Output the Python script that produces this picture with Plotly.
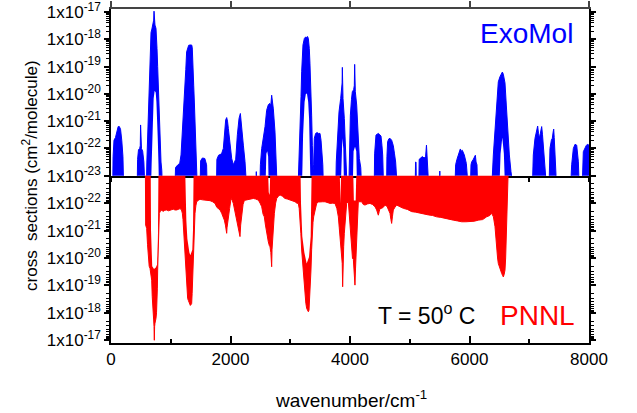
import plotly.graph_objects as go

# ---------------- data ----------------
# ExoMol: upper envelope (max of the dense line spectrum), log10 of cross section
exomol_max_wn = [
    0, 28, 35, 50, 75, 100, 120, 140, 160, 180, 200, 212,
    438, 445, 460, 480, 490, 495, 500, 510, 530, 550, 568,
    592, 600, 614, 625, 636, 647, 658, 670, 681, 692, 703, 714, 720, 726, 736, 753, 762, 770, 781, 792, 803, 815, 826, 837, 850, 860,
    1070, 1080, 1120, 1150, 1172, 1190, 1211, 1225, 1239, 1252, 1266, 1283, 1300, 1322, 1340, 1350, 1360, 1367, 1376, 1384, 1395, 1406, 1415, 1423, 1435, 1445,
    1490, 1500, 1530, 1570, 1600, 1610,
    1765, 1772, 1800, 1850, 1880, 1897, 1919, 1936, 1950, 1964, 1992, 2020, 2047, 2087, 2115, 2143, 2165, 2187, 2215, 2243, 2271,
    2425, 2432, 2440,
    2490, 2500, 2522, 2550, 2578, 2605, 2633, 2655, 2675, 2689, 2700, 2717, 2745, 2760, 2773, 2782,
    3130, 3152, 3169, 3180, 3191, 3202, 3213, 3236, 3255, 3275, 3290, 3303, 3319, 3330, 3342, 3358, 3370, 3382, 3392, 3403, 3425, 3450, 3470, 3498, 3515, 3526, 3545, 3556,
    3762, 3770, 3788, 3816, 3844, 3861, 3868, 3872, 3876, 3883, 3905, 3928, 3945, 3952,
    3980, 3990, 4006, 4025, 4039, 4061, 4072, 4078, 4084, 4089, 4112, 4134, 4156, 4180, 4195,
    4405, 4412, 4435, 4460, 4474, 4500, 4519, 4535, 4547, 4563,
    4612, 4618, 4630, 4650, 4669, 4697, 4725, 4745, 4764, 4792,
    5090, 5097, 5105, 5112,
    5150, 5158, 5180, 5210, 5240, 5265, 5280, 5290, 5305, 5320,
    5495, 5503, 5512,
    5755, 5768, 5790, 5813, 5835, 5846, 5865, 5880, 5913, 5947, 5980,
    6015, 6025, 6036, 6064, 6085, 6098, 6110, 6125, 6137,
    6371, 6399, 6427, 6455, 6482, 6510, 6525, 6538, 6550, 6566, 6580, 6594, 6616, 6639, 6667, 6694, 6734,
    7051, 7068, 7096, 7120, 7141, 7155, 7169, 7190, 7208, 7222, 7236, 7264, 7291,
    7330, 7347, 7370, 7386, 7400, 7409, 7418, 7431, 7459,
    7690, 7710, 7738, 7766, 7794, 7822, 7838,
    7885, 7905, 7933, 7952, 7972, 8000,
]
exomol_max_log = [
    -23.5, -23.5, -22.3, -21.7, -21.6, -21.3, -21.2, -21.2, -21.3, -21.7, -22.3, -23.5,
    -23.5, -22.4, -22.05, -22.0, -21.9, -21.14, -21.9, -22.0, -22.1, -22.5, -23.5,
    -23.5, -22.5, -21.4, -20.5, -19.6, -18.7, -17.9, -17.75, -17.66, -17.5, -17.36, -17.3, -16.97, -17.3, -17.48, -17.6, -17.9, -18.34, -19.0, -19.8, -20.6, -21.4, -22.0, -22.5, -22.8, -23.5,
    -23.5, -22.7, -22.6, -22.55, -22.24, -21.6, -21.0, -20.4, -19.8, -19.1, -18.46, -18.27, -18.22, -18.21, -18.2, -18.21, -18.3, -18.58, -19.1, -19.68, -20.3, -20.9, -21.5, -22.0, -22.85, -23.5,
    -23.5, -22.45, -22.35, -22.37, -22.6, -23.5,
    -23.5, -22.4, -22.25, -22.2, -22.0, -21.5, -20.96, -20.87, -21.0, -21.27, -21.88, -22.37, -22.6, -22.4, -21.5, -20.9, -20.72, -21.14, -21.88, -22.49, -23.5,
    -23.5, -22.85, -23.5,
    -23.5, -22.6, -22.0, -21.6, -21.2, -20.6, -20.4, -20.35, -20.4, -20.05, -20.4, -20.55, -21.4, -22.1, -22.85, -23.5,
    -23.5, -22.24, -21.02, -20.1, -19.19, -18.6, -18.21, -17.97, -17.92, -17.93, -17.9, -17.97, -18.34, -18.9, -19.56, -20.78, -21.9, -22.8, -22.6, -21.63, -21.45, -21.42, -21.45, -21.45, -21.7, -22.0, -22.6, -23.5,
    -23.5, -22.5, -21.63, -20.66, -20.17, -19.8, -19.6, -19.03, -19.8, -20.17, -20.9, -21.88, -22.8, -23.5,
    -23.5, -21.88, -20.78, -20.2, -19.92, -19.85, -19.7, -18.92, -19.8, -19.92, -20.41, -21.63, -22.37, -22.7, -23.5,
    -23.5, -22.2, -21.51, -21.45, -21.45, -21.5, -21.55, -21.9, -22.24, -23.5,
    -23.5, -22.3, -21.75, -21.65, -21.63, -21.7, -21.9, -22.2, -22.5, -23.5,
    -23.5, -22.5, -22.5, -23.5,
    -23.5, -22.4, -22.35, -22.3, -22.35, -22.3, -21.88, -22.4, -22.6, -23.5,
    -23.5, -22.83, -23.5,
    -23.5, -22.6, -22.4, -22.24, -22.05, -22.02, -22.1, -22.07, -22.24, -22.55, -23.5,
    -23.5, -22.6, -22.5, -22.4, -22.3, -22.25, -22.5, -22.6, -23.5,
    -23.5, -22.24, -21.39, -20.41, -19.56, -19.37, -19.28, -19.25, -19.2, -19.28, -19.4, -19.6, -20.41, -21.39, -22.24, -22.85, -23.5,
    -23.5, -22.24, -21.63, -21.3, -21.18, -21.45, -21.63, -21.4, -21.2, -21.5, -21.88, -22.49, -23.5,
    -23.5, -22.0, -21.7, -21.63, -21.4, -21.29, -21.6, -22.0, -23.5,
    -23.5, -22.6, -22.0, -21.85, -21.88, -22.49, -23.5,
    -23.5, -22.12, -21.94, -21.9, -21.85, -21.88,
]
# ExoMol: lower envelope (min of the line spectrum) -> white notches inside bands
exomol_min_wn = [
    0,
    670, 680, 692, 703, 714, 731, 748, 760, 770, 782, 795, 803,
    2585, 2600, 2615, 2630, 2640,
    3195, 3205, 3215, 3240, 3262, 3280, 3300, 3315, 3330, 3340,
    3845, 3860, 3872, 3888, 3900,
    4045, 4060, 4084, 4105, 4118,
    6500, 6520, 6549, 6575, 6595,
    8000,
]
exomol_min_log = [
    -23.5,
    -23.5, -22.6, -21.63, -20.9, -20.17, -19.89, -19.95, -20.3, -20.78, -21.6, -22.6, -23.5,
    -23.5, -22.2, -22.1, -22.3, -23.5,
    -23.5, -22.6, -21.5, -20.3, -20.0, -20.0, -20.3, -20.9, -21.8, -23.5,
    -23.5, -22.0, -21.63, -22.0, -23.5,
    -23.5, -22.1, -21.94, -22.1, -23.5,
    -23.5, -22.2, -21.6, -22.2, -23.5,
    -23.5,
]

# PNNL: deepest envelope (max cross section)
pnnl_max_wn = [
    0, 575, 580, 597, 611, 625, 639, 653, 667, 681, 690, 697, 706, 714, 720, 725, 730, 736, 745, 753, 762, 770, 776, 781, 787, 792, 800, 809,
    837, 860, 876, 900, 932, 960, 987, 1015, 1043, 1070, 1099, 1130, 1155, 1180,
    1194, 1205, 1216, 1228, 1239, 1250, 1261, 1272, 1283, 1295, 1306, 1317, 1328, 1340, 1350, 1358, 1367, 1375, 1384, 1395, 1406, 1420, 1434,
    1460, 1490, 1530, 1573, 1610, 1657, 1700, 1741, 1770, 1797, 1825, 1852, 1875, 1897, 1915, 1930, 1936, 1942, 1964, 1985, 2009, 2030, 2047,
    2075, 2103, 2131, 2150, 2159, 2170, 2187, 2210, 2232, 2265, 2299, 2340, 2382, 2420, 2466, 2495,
    2522, 2545, 2566, 2585, 2605, 2633, 2650, 2661, 2675, 2685, 2689, 2695, 2706, 2720, 2734, 2755, 2773,
    2800, 2829, 2870, 2912, 2950, 2996, 3040, 3080, 3110, 3135,
    3150, 3163, 3177, 3191, 3205, 3219, 3233, 3247, 3261, 3275, 3290, 3303, 3314, 3325, 3336, 3347, 3358, 3370, 3381, 3392, 3414, 3442,
    3470, 3498, 3540, 3582, 3625, 3666, 3710, 3749,
    3780, 3805, 3820, 3833, 3850, 3861, 3870, 3877, 3884, 3894, 3905, 3917, 3944, 3972,
    3985, 4000, 4014, 4028, 4042, 4056, 4070, 4083, 4092, 4100, 4111, 4122, 4139,
    4167, 4195, 4223, 4251, 4290, 4334, 4376, 4418, 4446, 4474, 4490, 4502, 4530, 4558, 4586, 4620, 4645, 4669, 4685, 4697, 4710, 4725, 4753, 4781,
    4836, 4892, 4960, 5032, 5100, 5171, 5240, 5311, 5380, 5450, 5520, 5590, 5660, 5729, 5800, 5869, 5940, 6008, 6080, 6148, 6220, 6287, 6340, 6371,
    6400, 6427, 6440, 6455, 6470, 6482, 6496, 6510, 6524, 6538, 6552, 6566, 6580, 6594, 6605, 6616, 6625, 6633, 6642, 6650, 6652, 8000,
]
pnnl_max_log = [
    -23.5, -23.5, -21.2, -21.08, -20.5, -19.92, -19.7, -19.62, -19.4, -19.19, -18.6, -18.1, -17.9, -17.74, -17.5, -17.0, -17.5, -17.62, -17.7, -17.8, -18.0, -18.34, -18.9, -19.56, -20.2, -20.78, -21.3, -21.63,
    -21.75, -21.72, -21.7, -21.74, -21.75, -21.72, -21.73, -21.76, -21.78, -21.75, -21.75, -21.78, -21.8, -21.75,
    -21.63, -21.4, -21.02, -20.5, -19.92, -19.6, -19.19, -18.8, -18.52, -18.45, -18.4, -18.35, -18.27, -18.3, -18.34, -18.7, -19.19, -19.9, -20.78, -21.3, -21.63, -21.9, -22.05,
    -22.1, -22.14, -22.12, -22.11, -22.1, -22.09, -22.05, -21.99, -21.85, -21.81, -21.75, -21.63, -21.5, -21.38, -21.2, -21.0, -20.9, -21.1, -21.38, -21.8, -22.17, -22.1, -21.99,
    -21.7, -21.38, -21.14, -20.9, -20.78, -21.2, -21.63, -21.95, -22.1, -22.12, -22.14, -22.15, -22.17, -22.15, -22.11, -22.0,
    -21.87, -21.6, -21.5, -21.2, -20.9, -20.59, -20.45, -20.41, -20.2, -20.0, -19.68, -20.3, -20.78, -21.2, -21.63, -22.0, -22.17,
    -22.25, -22.3, -22.25, -22.17, -22.15, -22.11, -22.1, -22.05, -22.0, -21.99,
    -21.8, -21.5, -20.9, -20.29, -19.9, -19.56, -19.1, -18.58, -18.35, -18.16, -18.1, -18.04, -18.1, -18.47, -19.0, -19.56, -20.3, -21.02, -21.3, -21.5, -21.68, -21.99,
    -22.04, -22.05, -22.05, -22.05, -22.02, -21.99, -22.0, -21.99,
    -21.8, -21.5, -21.1, -20.78, -20.6, -20.29, -19.8, -18.95, -19.9, -20.41, -20.9, -21.3, -21.99, -22.05,
    -21.6, -21.14, -20.6, -20.04, -19.98, -19.95, -19.6, -19.01, -19.6, -20.04, -20.7, -21.38, -22.05,
    -22.05, -22.05, -21.95, -21.93, -21.97, -21.99, -21.95, -21.87, -21.75, -21.56, -21.7, -21.8, -21.81, -21.85, -21.93, -21.88, -21.75, -21.63, -21.4, -21.26, -21.5, -21.75, -21.85, -21.93,
    -21.87, -21.81, -21.77, -21.69, -21.67, -21.63, -21.6, -21.57, -21.55, -21.5, -21.48, -21.44, -21.42, -21.38, -21.35, -21.32, -21.32, -21.32, -21.34, -21.38, -21.4, -21.5, -21.55, -21.63,
    -21.5, -21.14, -20.7, -20.41, -20.0, -19.8, -19.7, -19.56, -19.5, -19.44, -19.37, -19.31, -19.4, -19.56, -20.0, -20.78, -21.5, -21.75, -22.2, -22.5, -23.5, -23.5,
]
# PNNL: shallow envelope (min) -> white notches touching the 1e-23 line
pnnl_min_wn = [
    0,
    664, 670, 678, 690, 720, 750, 770, 780, 787, 795,
    1239, 1250, 1261, 1278, 1295, 1312, 1328, 1345, 1361, 1372, 1384,
    2625, 2640, 2655, 2670,
    3170, 3180, 3202, 3236, 3275, 3314, 3342, 3352, 3360,
    3825, 3840, 3855,
    4050, 4065, 4095, 4110,
    8000,
]
pnnl_min_log = [
    -23.5,
    -23.5, -21.0, -20.0, -19.7, -19.6, -19.65, -19.75, -20.1, -21.0, -23.5,
    -23.5, -22.0, -21.38, -20.7, -20.4, -20.2, -20.1, -20.2, -20.3, -21.0, -23.5,
    -23.5, -22.4, -22.3, -23.5,
    -23.5, -22.0, -20.78, -20.2, -19.8, -20.04, -20.78, -22.0, -23.5,
    -23.5, -22.0, -23.5,
    -23.5, -22.1, -22.1, -23.5,
    -23.5,
]

top_tick_exp = [-23, -22, -21, -20, -19, -18, -17]
bottom_tick_exp = [-22, -21, -20, -19, -18, -17]
x_tick_vals = [0, 2000, 4000, 6000, 8000]

assert len(exomol_max_wn) == len(exomol_max_log)
assert len(exomol_min_wn) == len(exomol_min_log)
assert len(pnnl_max_wn) == len(pnnl_max_log)
assert len(pnnl_min_wn) == len(pnnl_min_log)

# ---------------- figure ----------------
FONT = "Liberation Sans, Arial, sans-serif"
BLUE = "#0000ff"
RED = "#ff0000"


def ten(vals):
    return [10.0 ** v for v in vals]


def sci(e):
    return "1x10<sup>%d</sup>" % e


fig = go.Figure()
fig.add_trace(go.Scatter(x=exomol_min_wn, y=ten(exomol_min_log), xaxis="x", yaxis="y",
                         mode="lines", line=dict(width=0, color=BLUE), hoverinfo="skip"))
fig.add_trace(go.Scatter(x=exomol_max_wn, y=ten(exomol_max_log), xaxis="x", yaxis="y",
                         mode="lines", line=dict(width=1, color=BLUE),
                         fill="tonexty", fillcolor=BLUE))
fig.add_trace(go.Scatter(x=pnnl_min_wn, y=ten(pnnl_min_log), xaxis="x2", yaxis="y2",
                         mode="lines", line=dict(width=0, color=RED), hoverinfo="skip"))
fig.add_trace(go.Scatter(x=pnnl_max_wn, y=ten(pnnl_max_log), xaxis="x2", yaxis="y2",
                         mode="lines", line=dict(width=1, color=RED),
                         fill="tonexty", fillcolor=RED))
# helper trace so the top frame axis is drawn
fig.add_trace(go.Scatter(x=[4000], y=[1e-20], xaxis="x3", yaxis="y", mode="markers",
                         marker=dict(opacity=0), hoverinfo="skip"))

minor_top = [k * 10.0 ** e for e in range(-23, -17) for k in range(2, 10)]

yaxis_common = dict(type="log", showgrid=False, zeroline=False, showline=True,
                    linecolor="black", linewidth=1.5, ticks="outside", ticklen=5,
                    tickwidth=1.5, tickcolor="black", mirror="ticks", automargin=False,
                    ticklabeloverflow="allow",
                    tickfont=dict(family=FONT, size=17, color="black"),
                    minor=dict(tickmode="array", tickvals=minor_top, ticks="outside",
                               ticklen=3, tickwidth=1, tickcolor="black", showgrid=False))

fig.update_layout(
    width=637, height=413,
    margin=dict(l=111, r=48, t=9, b=70, autoexpand=False),
    paper_bgcolor="white", plot_bgcolor="white",
    showlegend=False,
    font=dict(family=FONT, size=17, color="black"),
    xaxis=dict(domain=[0, 1], anchor="y", range=[0, 8000], showgrid=False, zeroline=False,
               showline=True, linecolor="black", linewidth=2, ticks="outside",
               tick0=0, dtick=1000, ticklen=4, tickwidth=1.5, tickcolor="black",
               showticklabels=False, automargin=False),
    xaxis3=dict(overlaying="x", side="top", anchor="y", range=[0, 8000], showgrid=False,
                zeroline=False, showline=True, linecolor="#444444", linewidth=2,
                ticks="outside", tick0=0, dtick=2000, ticklen=6, tickwidth=1.5,
                tickcolor="#444444", showticklabels=False, automargin=False),
    yaxis=dict(domain=[0.5009, 1], anchor="x", range=[-23, -16.89],
               tickmode="array", tickvals=[10.0 ** e for e in top_tick_exp],
               ticktext=[sci(e) for e in top_tick_exp], **yaxis_common),
    xaxis2=dict(domain=[0, 1], anchor="y2", range=[0, 8000], showgrid=False, zeroline=False,
                showline=True, linecolor="black", linewidth=1.5, ticks="inside",
                tickmode="array", tickvals=x_tick_vals, ticktext=[str(v) for v in x_tick_vals],
                ticklen=7, tickwidth=1.5, tickcolor="black", ticklabelstandoff=0,
                automargin=False, ticklabeloverflow="allow",
                tickfont=dict(family=FONT, size=17, color="black"),
                minor=dict(tickmode="array", tickvals=[1000, 3000, 5000, 7000],
                           ticks="inside", ticklen=4, tickwidth=1.5, tickcolor="black")),
    yaxis2=dict(domain=[0, 0.5009], anchor="x2", range=[-16.9, -23],
                tickmode="array", tickvals=[10.0 ** e for e in bottom_tick_exp],
                ticktext=[sci(e) for e in bottom_tick_exp], **yaxis_common),
)

fig.add_annotation(text="cross  sections (cm<sup>2</sup>/molecule)", textangle=-90,
                   xref="paper", yref="paper", x=-0.1695, y=0.503,
                   xanchor="center", yanchor="middle", showarrow=False,
                   font=dict(family=FONT, size=17, color="black"))
fig.add_annotation(text="wavenumber/cm<sup>-1</sup>",
                   xref="paper", yref="paper", x=0.502, y=-0.168,
                   xanchor="center", yanchor="middle", showarrow=False,
                   font=dict(family=FONT, size=19, color="black"))
fig.add_annotation(text="ExoMol", xref="paper", yref="paper", x=0.870, y=0.928,
                   xanchor="center", yanchor="middle", showarrow=False,
                   font=dict(family=FONT, size=28, color=BLUE))
fig.add_annotation(text="PNNL", xref="paper", yref="paper", x=0.893, y=0.081,
                   xanchor="center", yanchor="middle", showarrow=False,
                   font=dict(family=FONT, size=28, color=RED))
fig.add_annotation(text="T = 50<sup>o</sup> C", xref="paper", yref="paper", x=0.659, y=0.088,
                   xanchor="center", yanchor="middle", showarrow=False,
                   font=dict(family=FONT, size=23, color="black"))

fig.write_html("out.html")
